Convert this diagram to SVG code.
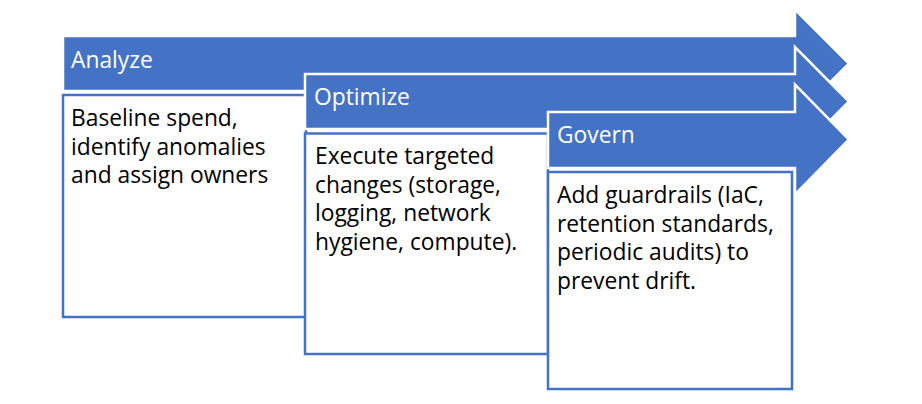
<svg xmlns="http://www.w3.org/2000/svg" width="922" height="404" viewBox="0 0 922 404">
<style>
.arrow{fill:#4472C4;stroke:#FFFFFF;stroke-width:2.5;stroke-linejoin:miter}
.box{fill:#FFFFFF;stroke:#4472C4;stroke-width:2.5}
.hdr{font-family:"Open Sans","Noto Sans",sans-serif;font-size:22.8px;fill:#FFFFFF}
.body{font-family:"Open Sans","Noto Sans",sans-serif;font-size:22.8px;fill:#000000}
</style>
<rect width="922" height="404" fill="#FFFFFF"/>
<g id="analyze">
<path class="arrow" d="M63,36 H795 V9.5 L849,63.5 L795,117.5 V91 H63 Z"/>
<text class="hdr" x="71" y="68">Analyze</text>
<rect class="box" x="63" y="95" width="243" height="222"/>
<text class="body" x="71" y="126">Baseline spend,</text>
<text class="body" x="71" y="154.5">identify anomalies</text>
<text class="body" x="71" y="183">and assign owners</text>
</g>
<g id="optimize">
<path class="arrow" d="M305,74 H795 V47 L849,101.5 L795,156 V129 H305 Z"/>
<text class="hdr" x="314" y="105">Optimize</text>
<rect class="box" x="305" y="133.5" width="243" height="220.5"/>
<text class="body" x="315" y="164">Execute targeted</text>
<text class="body" x="315" y="192.5">changes (storage,</text>
<text class="body" x="315" y="221">logging, network</text>
<text class="body" x="315" y="250">hygiene, compute).</text>
</g>
<g id="govern">
<path class="arrow" d="M548,112 H795 V84.5 L849,139.5 L795,194.5 V168 H548 Z"/>
<text class="hdr" x="557" y="143">Govern</text>
<rect class="box" x="548" y="172" width="244" height="217"/>
<text class="body" x="557" y="203">Add guardrails (IaC,</text>
<text class="body" x="557" y="231.5">retention standards,</text>
<text class="body" x="557" y="260">periodic audits) to</text>
<text class="body" x="557" y="288.5">prevent drift.</text>
</g>
<g id="connectors"></g>
</svg>
